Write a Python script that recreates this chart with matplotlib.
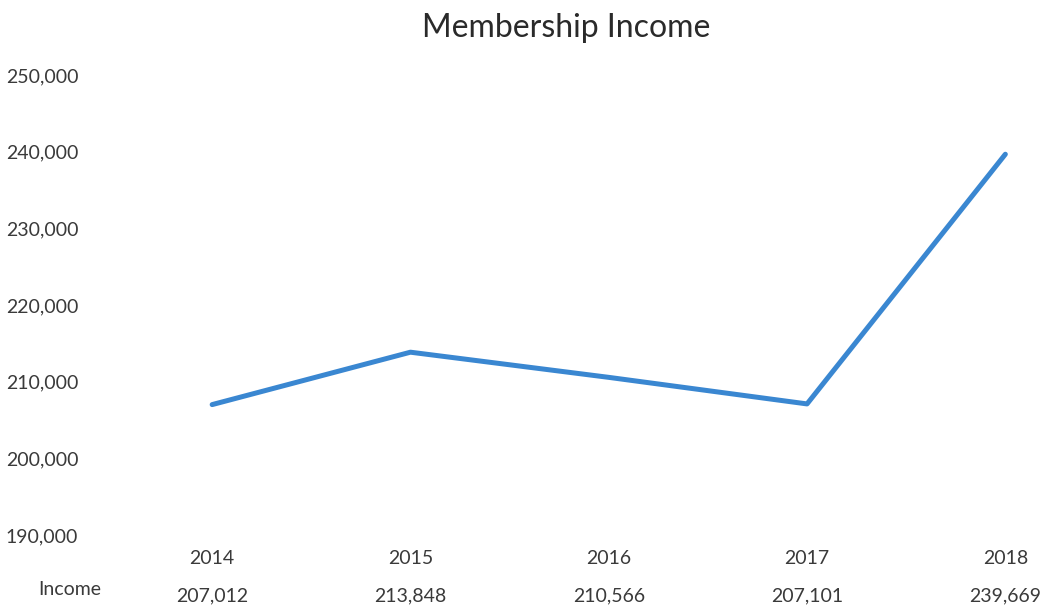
import matplotlib
matplotlib.use("Agg")
import matplotlib.pyplot as plt
import matplotlib.transforms as mtransforms

# Data
years = ["2014", "2015", "2016", "2017", "2018"]
income = [207012, 213848, 210566, 207101, 239669]
y_ticks = [190000, 200000, 210000, 220000, 230000, 240000, 250000]

plt.rcParams['font.family'] = ['Lato', 'DejaVu Sans']
text_color = '#3a3a3a'

fig = plt.figure(figsize=(10.45, 6.13), dpi=100)
ax = fig.add_axes([113 / 1045, 0.1272, 1 - 113 / 1045, 0.7504])

x = list(range(len(years)))
ax.plot(x, income, color='#3a87d1', linewidth=3.6, solid_capstyle='round', solid_joinstyle='round')

ax.set_xlim(-0.5, 4.2)
ax.set_ylim(190000, 250000)
ax.set_yticks(y_ticks)
ax.set_yticklabels([f"{v:,}" for v in y_ticks], fontsize=14, color=text_color)
ax.tick_params(axis='y', length=0, pad=25)

ax.set_xticks(x)
ax.set_xticklabels(years, fontsize=14, color=text_color)
ax.tick_params(axis='x', length=0, pad=11)

for s in ax.spines.values():
    s.set_visible(False)

# data table row under the axis
trans = mtransforms.blended_transform_factory(ax.transData, fig.transFigure)
for xi, v in zip(x, income):
    ax.text(xi, 0.028, f"{v:,}", transform=trans, ha='center', va='center',
            fontsize=14, color=text_color)
ax.text(70 / 1045, 0.038, "Income", transform=fig.transFigure, ha='center', va='center',
        fontsize=14, color=text_color)

fig.text(566 / 1045, 1 - 28 / 613, "Membership Income", ha='center', va='center',
         fontsize=23, color='#2a2a2a')

fig.savefig("out.png", dpi=100, facecolor='white')
